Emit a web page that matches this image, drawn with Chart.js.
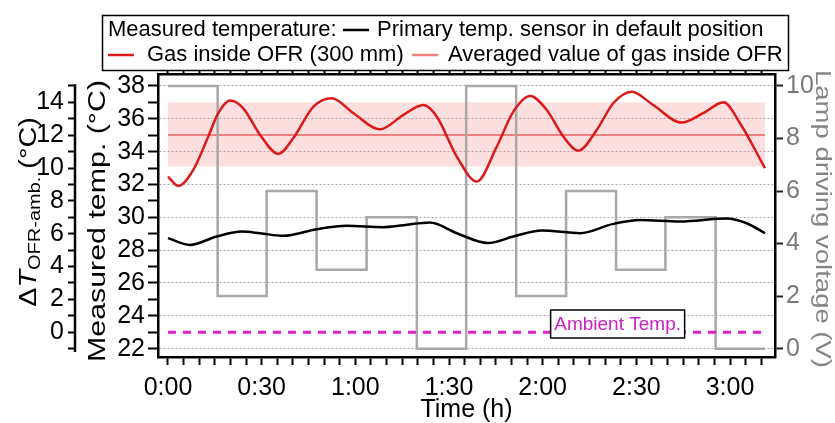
<!DOCTYPE html>
<html>
<head>
<meta charset="utf-8">
<script src="https://cdn.jsdelivr.net/npm/chart.js@4.4.1/dist/chart.umd.min.js"></script>
<style>
  html, body { margin: 0; padding: 0; overflow: hidden; background: #fff; }
  canvas { display: block; }
</style>
</head>
<body>
<canvas id="chart" width="845" height="423"></canvas>
<script>
const FONT = '"Liberation Sans", Arial, sans-serif';

// time in minutes from start
const redTime = [0, 3.3, 8.1, 12.9, 16.1, 19.9, 24.1, 29.5, 35.3, 40.1, 46.6, 52.4, 59.4, 67.9, 75.4, 81.8, 86.1, 92.5, 98.9,
  105.3, 110.6, 116, 121.3, 126.6, 131.4, 137.3, 142.6, 148.5, 155.4, 164.5, 171.4, 177.9, 183.2, 191.2];
const redTemp = [32.48, 31.91, 32.89, 34.92, 36.34, 37.11, 36.64, 35.02, 33.86, 34.82, 36.74, 37.25, 36.34, 35.36, 36.24, 36.84, 36.13, 33.7, 32.18,
  34.31, 36.44, 37.39, 36.54, 34.92, 34.06, 35.32, 36.95, 37.65, 36.84, 35.77, 36.34, 37.01, 35.73, 32.99];

const blackTime = [0, 7, 15.6, 23.6, 29.5, 36.9, 47.6, 57.2, 68.9, 75.4, 83.9, 92.5, 102.5, 110.6, 119.7, 132, 142.6, 151.2, 164, 178.9, 185.3, 191.2];
const blackTemp = [28.73, 28.32, 28.83, 29.13, 29.03, 28.87, 29.27, 29.48, 29.40, 29.52, 29.68, 29.03, 28.43, 28.83, 29.2, 29.03, 29.6, 29.84, 29.74, 29.92, 29.64, 29.03];

const lampTime = [0, 15.9, 31.6, 47.6, 63.6, 79.7, 95.5, 111.5, 127.5, 143.5, 159.3, 175.4, 191.2];
const lampVolt = [10, 2, 6, 3, 5, 0, 10, 2, 6, 3, 5, 0, 0];

const spanTime = [0, 191.2];
const avgGas = 35.02;
const bandLow = 33.1;
const bandHigh = 37.0;
const ambient = 23;

// axis ranges
const xMin = -3.2, xMax = 194.4;
const tMin = 21.49, tMax = 38.73;
const dOffset = ambient;          // ΔT = T - ambient
const vZero = 22, vPerUnit = 1.6; // lamp voltage axis aligned with temp axis

const pts = (xs, ys) => xs.map((x, i) => ({ x, y: Array.isArray(ys) ? ys[i] : ys }));
const hm = v => Math.floor(v / 60) + ':' + String(v % 60).padStart(2, '0');

function vText(ctx, x, y, angle, stretch, runs) {
  ctx.save();
  ctx.translate(x, y);
  ctx.rotate(angle);
  ctx.scale(stretch, 1);
  let total = 0;
  runs.forEach(r => { ctx.font = r.font; r.w = ctx.measureText(r.text).width; total += r.w; });
  let pos = -total / 2;
  ctx.textAlign = 'left';
  ctx.textBaseline = 'middle';
  runs.forEach(r => {
    ctx.font = r.font;
    ctx.fillStyle = r.color || '#000';
    ctx.fillText(r.text, pos, r.dy || 0);
    pos += r.w;
  });
  ctx.restore();
}

const decor = {
  id: 'decor',
  afterDraw(chart) {
    const ctx = chart.ctx;
    const sd = chart.scales.yDelta;

    // ΔT axis line
    ctx.save();
    ctx.strokeStyle = '#000';
    ctx.lineWidth = 2.5;
    ctx.beginPath();
    ctx.moveTo(sd.right - 1, sd.getPixelForValue(15.1));
    ctx.lineTo(sd.right - 1, sd.getPixelForValue(-1.2));
    ctx.stroke();
    ctx.restore();

    // vertical axis titles
    vText(ctx, 30, 212, -Math.PI / 2, 1.25, [
      { text: 'Δ', font: `23px ${FONT}` },
      { text: 'T', font: `italic 23px ${FONT}` },
      { text: 'OFR-amb.', font: `16px ${FONT}`, dy: 6 },
      { text: ' (°C)', font: `23px ${FONT}` }
    ]);
    vText(ctx, 99, 221, -Math.PI / 2, 1.32, [{ text: 'Measured temp. (°C)', font: `23px ${FONT}` }]);
    vText(ctx, 822, 219, Math.PI / 2, 1.25, [{ text: 'Lamp driving voltage (V)', font: `22px ${FONT}`, color: '#858585' }]);

    // ambient label
    const sx = chart.scales.x, sy = chart.scales.y;
    const cx = sx.getPixelForValue(144), cy = sy.getPixelForValue(23.5);
    ctx.save();
    ctx.fillStyle = '#fff';
    ctx.strokeStyle = '#000';
    ctx.lineWidth = 1.5;
    ctx.fillRect(cx - 67, cy - 14, 134, 28);
    ctx.strokeRect(cx - 67, cy - 14, 134, 28);
    ctx.font = `19px ${FONT}`;
    ctx.fillStyle = '#cc20c4';
    ctx.textAlign = 'center';
    ctx.textBaseline = 'middle';
    ctx.fillText('Ambient Temp.', cx, cy + 1);
    ctx.restore();

    // legend
    ctx.save();
    ctx.fillStyle = '#fff';
    ctx.fillRect(102, 15, 686, 55);
    ctx.strokeStyle = '#000';
    ctx.lineWidth = 1.5;
    ctx.strokeRect(102.5, 15.5, 686, 55);
    ctx.font = `22px ${FONT}`;
    ctx.textBaseline = 'middle';
    ctx.textAlign = 'left';
    ctx.fillStyle = '#000';
    const sample = (x, y, color) => {
      ctx.strokeStyle = color;
      ctx.lineWidth = 2.5;
      ctx.beginPath();
      ctx.moveTo(x, y);
      ctx.lineTo(x + 26, y);
      ctx.stroke();
    };
    ctx.fillText('Measured temperature:', 108, 30);
    sample(343, 30, '#000');
    ctx.fillText('Primary temp. sensor in default position', 377, 30);
    sample(108, 55, '#dd1a1a');
    ctx.fillText('Gas inside OFR (300 mm)', 147, 55);
    sample(412, 55, '#f08080');
    ctx.fillText('Averaged value of gas inside OFR', 448, 55);
    ctx.restore();
  }
};

const tickFont = { family: FONT, size: 25 };

new Chart(document.getElementById('chart'), {
  type: 'line',
  data: {
    datasets: [
      { data: pts(redTime, redTemp), yAxisID: 'y', borderColor: '#dd1a1a', borderWidth: 2.5, cubicInterpolationMode: 'monotone', pointRadius: 0 },
      { data: pts(blackTime, blackTemp), yAxisID: 'y', borderColor: '#000', borderWidth: 2.5, cubicInterpolationMode: 'monotone', pointRadius: 0 },
      { data: pts(spanTime, ambient), yAxisID: 'y', borderColor: '#dd22cc', borderWidth: 3, borderDash: [8, 7], pointRadius: 0 },
      { data: pts(lampTime, lampVolt), yAxisID: 'yV', borderColor: '#a8a8a8', borderWidth: 2.5, stepped: 'before', pointRadius: 0 },
      { data: pts(spanTime, avgGas), yAxisID: 'y', borderColor: '#f08080', borderWidth: 2, pointRadius: 0 },
      { data: pts(spanTime, bandHigh), yAxisID: 'y', borderColor: 'rgba(0,0,0,0)', borderWidth: 0, pointRadius: 0 },
      { data: pts(spanTime, bandLow), yAxisID: 'y', borderColor: 'rgba(0,0,0,0)', borderWidth: 0, pointRadius: 0,
        fill: '-1', backgroundColor: 'rgba(248,140,140,0.28)' }
    ]
  },
  options: {
    responsive: false,
    maintainAspectRatio: false,
    animation: false,
    layout: { padding: 0 },
    plugins: { legend: { display: false }, tooltip: { enabled: false } },
    scales: {
      x: {
        type: 'linear', position: 'bottom', min: xMin, max: xMax,
        ticks: { stepSize: 5, includeBounds: false, autoSkip: false, maxRotation: 0, minRotation: 0,
          padding: 8, color: '#000', font: tickFont, callback: v => (v % 30 === 0 ? hm(v) : '') },
        grid: { drawOnChartArea: false, tickLength: 8, tickWidth: 2, tickColor: '#000' },
        border: { color: '#000', width: 2.5 },
        title: { display: true, text: 'Time (h)', color: '#000', font: { family: FONT, size: 25 }, padding: { top: 0, bottom: -2 } },
        afterFit: s => { s.height = 66; }
      },
      xTop: {
        type: 'linear', position: 'top', min: xMin, max: xMax,
        ticks: { display: false, stepSize: 5, includeBounds: false, autoSkip: false },
        grid: { drawOnChartArea: false, tickLength: 4, tickWidth: 2, tickColor: '#000' },
        border: { color: '#000', width: 2.5 },
        afterFit: s => { s.height = 74; }
      },
      y: {
        type: 'linear', position: 'left', weight: 0, min: tMin, max: tMax,
        ticks: { stepSize: 1, includeBounds: false, autoSkip: false, padding: 3, color: '#000', font: tickFont,
          callback: v => (v % 2 === 0 ? v : '') },
        grid: { drawOnChartArea: true, lineWidth: 1, tickLength: 10, tickWidth: 2, tickColor: '#000',
          color: c => (c.tick && c.tick.value % 2 === 0 ? '#a4a4bc' : 'rgba(0,0,0,0)') },
        border: { color: '#000', width: 2.5, dash: [2, 2] },
        afterFit: s => { s.width = 82; }
      },
      yDelta: {
        type: 'linear', position: 'left', weight: 1, min: tMin - dOffset, max: tMax - dOffset,
        ticks: { stepSize: 1, includeBounds: false, autoSkip: false, padding: 4, color: '#000', font: tickFont,
          callback: v => (v % 2 === 0 && v >= 0 && v <= 14 ? v : '') },
        grid: { drawOnChartArea: false, tickLength: 8, tickWidth: 2, tickColor: '#000' },
        border: { display: false },
        afterFit: s => { s.width = 76; }
      },
      yV: {
        type: 'linear', position: 'right', min: (tMin - vZero) / vPerUnit, max: (tMax - vZero) / vPerUnit,
        ticks: { stepSize: 2, includeBounds: false, autoSkip: false, padding: 3, color: '#7a7a7a', font: tickFont },
        grid: { drawOnChartArea: false, tickLength: 8, tickWidth: 2, tickColor: '#222' },
        border: { color: '#000', width: 2.5 },
        afterFit: s => { s.width = 70; }
      }
    }
  },
  plugins: [decor]
});
</script>
</body>
</html>
